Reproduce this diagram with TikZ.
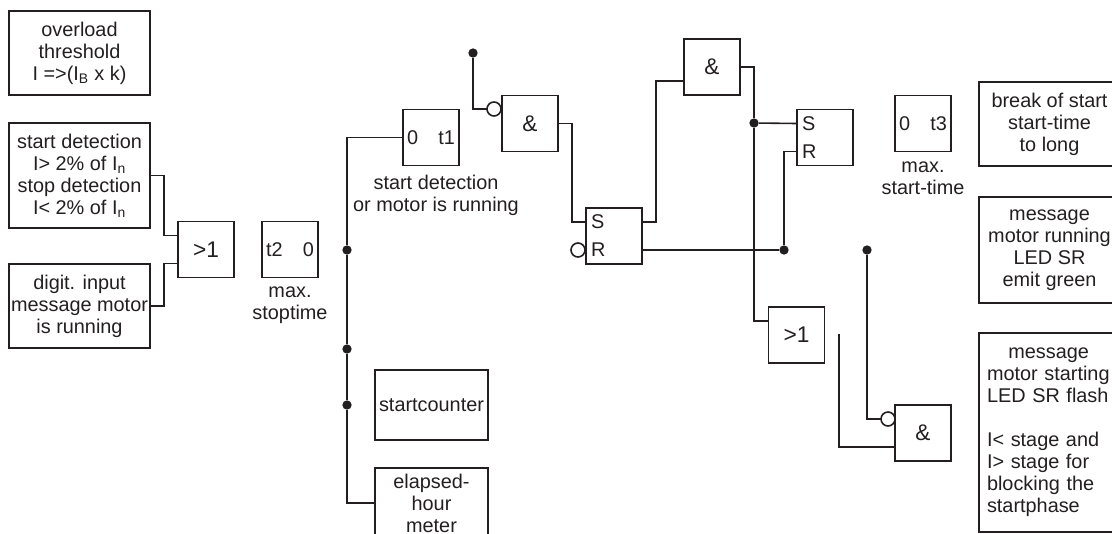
\documentclass[tikz,border=0pt]{standalone}
\usepackage{fontspec}
\setmainfont{Liberation Sans}
\usetikzlibrary{calc}
\definecolor{ink}{HTML}{231F20}
\newcommand{\labelfont}{\fontsize{14.9}{16.5}\selectfont}
\newcommand{\gatefont}{\fontsize{17}{18}\selectfont}
\tikzset{
    wire/.style={draw=ink, line width=1.2pt},
    blockbox/.style={draw=ink, line width=1.2pt, outer sep=0pt, inner sep=0pt, text=ink, align=center,
        font=\labelfont},
    infobox/.style={blockbox, minimum width=105.75pt},
    gatebox/.style={blockbox, minimum width=42pt, minimum height=42pt, font=\gatefont},
    timerbox/.style={blockbox, minimum width=42pt, minimum height=42pt, align=left, text width=36pt},
    latchbox/.style={blockbox, minimum width=42pt, minimum height=42pt, align=left, text width=34.5pt},
    caption/.style={text=ink, align=center, inner sep=0pt, font=\labelfont},
    junction/.style={circle, fill=ink, inner sep=0pt, minimum size=7pt},
    negation/.style={circle, draw=ink, fill=white, line width=1.2pt, inner sep=0pt, minimum size=10.5pt, outer sep=0pt},
}
\begin{document}
\begin{tikzpicture}[x=0.75pt, y=-0.75pt]
        \useasboundingbox (0,0) rectangle (1112,533);
        \clip (0,0) rectangle (1112,533);
        % left column
        \node[infobox, minimum height=63pt] (overload) at (79.5,53) {overload\\threshold\\I =>(I\textsubscript{B} x k)};
        \node[infobox, minimum height=78.75pt] (detection) at (79.5,175.5) {start detection\\I> 2\% of I\textsubscript{n}\\stop detection\\I< 2\% of I\textsubscript{n}};
        \node[infobox, minimum height=63pt] (digit) at (79.5,306) {digit. input\\message motor\\is running};
        \node[gatebox] (orstop) at (206,249.5) {>1};
        \node[timerbox] (timerstop) at (290,249.5) {t2\hfill 0};
        \node[caption] (capstop) at (290,305) {max.\\stoptime};
        % middle
        \node[timerbox] (timerstart) at (431,137.5) {0\hfill t1};
        \node[caption] (capstart) at (436,195) {start detection\\or motor is running};
        \node[infobox, minimum width=84.75pt, minimum height=52.5pt] (counter) at (431.5,405) {startcounter};
        \node[infobox, minimum width=84.75pt, minimum height=52.5pt] (elapsed) at (431.5,503) {elapsed-\\hour\\meter};
        \node[gatebox] (andfirst) at (530,123.5) {\&};
        \node[latchbox] (latchfirst) at (614,236) {S\\[4.5pt]R};
        \node[gatebox] (andtop) at (712,67) {\&};
        \node[latchbox] (latchsecond) at (825,137.5) {S\\[4.5pt]R};
        \node[gatebox] (orrun) at (796.5,335) {>1};
        \node[gatebox] (andlast) at (923,433) {\&};
        \node[timerbox] (timerrun) at (923,123.5) {0\hfill t3};
        \node[caption] (caprun) at (923,178) {max.\\start-time};
        % right column
        \node[infobox, minimum height=63pt] (breakbox) at (1049.5,124) {break of start\\start-time\\to long};
        \node[infobox, minimum height=79.5pt] (runbox) at (1049.5,250) {message\\motor running\\LED SR\\emit green};
        \node[infobox, minimum height=149.25pt, align=left, text width=93.75pt] (startbox) at (1049.5,432.5)
            {\hspace*{16pt}message\\motor starting\\LED SR flash\\[16.5pt]I< stage and\\I> stage for\\blocking the\\startphase};
        % inverted inputs and junctions
        \node[negation] (notfirst) at (494,109) {};
        \node[negation] (notlatch) at (578,250) {};
        \node[negation] (notlast) at (888,419) {};
        \node[junction] (dotgate) at (473,53) {};
        \node[junction] (dotbusa) at (347,250) {};
        \node[junction] (dotbusb) at (347,349) {};
        \node[junction] (dotbusc) at (347,405) {};
        \node[junction] (dotset) at (754,123) {};
        \node[junction] (dotreset) at (784,250) {};
        \node[junction] (dotlast) at (867,250) {};
        \coordinate (freeend) at (839,334);
        % connectors
        \draw[wire] (detection.east) -- ++(14,0) |- ($(orstop.west)+(0,-14)$);
        \draw[wire] (digit.east) -- ++(14,0) |- ($(orstop.west)+(0,14)$);
        \draw[wire] (timerstart.west) -| (dotbusa) -- (dotbusb) -- (dotbusc) |- (elapsed.west);
        \draw[wire] (dotgate) |- (notfirst.west);
        \draw[wire] (andfirst.east) -- ++(14,0) |- ($(latchfirst.west)+(0,-14)$);
        \draw[wire] ($(latchfirst.east)+(0,-14)$) -- ++(14,0) |- ($(andtop.west)+(0,14)$);
        \draw[wire] ($(latchfirst.east)+(0,14)$) -- (dotreset) |- ($(latchsecond.west)+(0,14)$);
        \draw[wire] (andtop.east) -| (dotset) |- ($(orrun.west)+(0,-14)$);
        \draw[wire] (dotset) -- ($(latchsecond.west)+(0,-14)$);
        \draw[wire] (dotlast) |- (notlast.west);
        \draw[wire] (freeend) |- ($(andlast.west)+(0,14)$);

    \end{tikzpicture}
\end{document}
